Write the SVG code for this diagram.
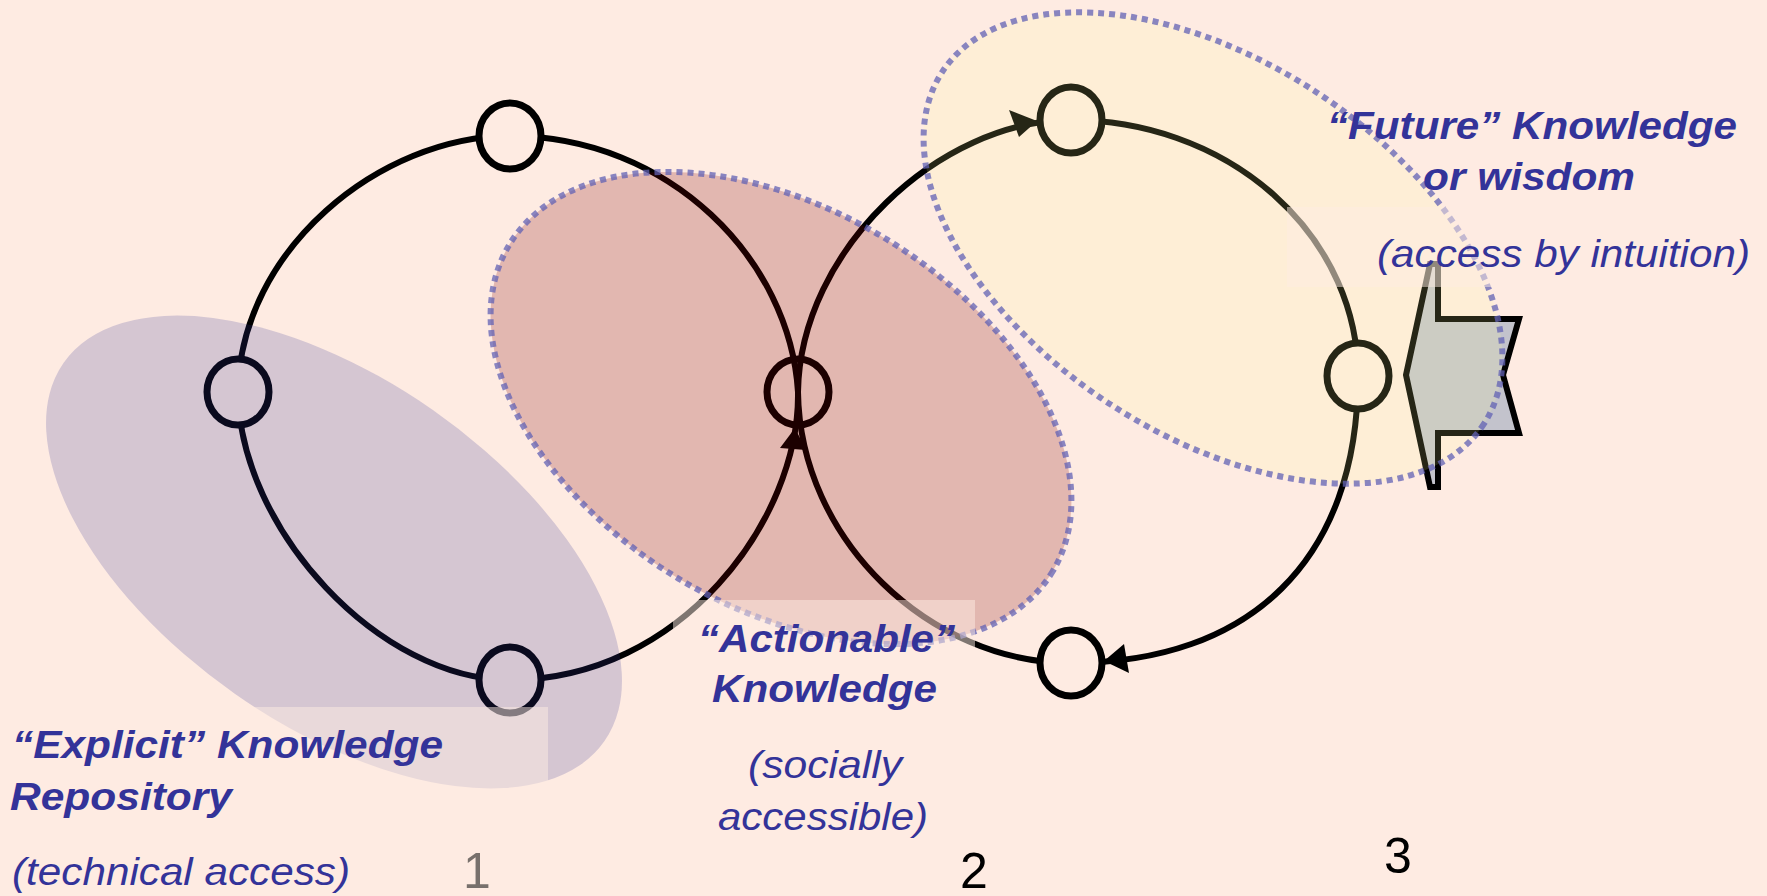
<svg xmlns="http://www.w3.org/2000/svg" width="1767" height="896" viewBox="0 0 1767 896">
<style>
.loop{fill:none;stroke:#000;stroke-width:6;}
.head{fill:#000;stroke:none;}
.node{fill:#FEEBE2;stroke:#000;stroke-width:7;}
.zone{stroke:#6262b4;stroke-opacity:0.75;stroke-width:6;stroke-dasharray:6 5;}
.box{fill:#FEEBE2;fill-opacity:0.5;}
.t{font-family:"Liberation Sans",Arial,sans-serif;fill:#333399;font-style:italic;}
.b{font-weight:bold;font-size:38px;}
.i{font-size:38px;}
.num{font-family:"Liberation Sans",Arial,sans-serif;font-size:50px;}
</style>
<rect x="0" y="0" width="1767" height="896" fill="#FEEBE2"/>
<g id="connectors">
  <path class="loop" d="M510 136 C670 136 790 260 798 392"/>
  <path class="loop" d="M798 392 C800 520 680 680 510 680"/>
  <path class="loop" d="M510 680 C380 680 240 530 238 392"/>
  <path class="loop" d="M238 392 C240 250 380 136 510 136"/>
  <path class="loop" d="M798 392 C800 250 940 120 1071 120"/>
  <path class="loop" d="M1071 120 A287 256 0 0 1 1358 376"/>
  <path class="loop" d="M1358 376 C1358 560 1250 663 1071 663"/>
  <path class="loop" d="M1071 663 C930 663 800 540 798 392"/>
  <polygon class="head" points="795,428 780,448 806,450"/>
  <polygon class="head" points="1037,121 1009,110 1019,137"/>
  <polygon class="head" points="1104,661 1124,644 1129,673"/>
</g>
<g id="node-left-top"><ellipse class="node" cx="510" cy="136" rx="31" ry="33"/></g>
<g id="node-left-left"><ellipse class="node" cx="238" cy="392" rx="31" ry="33"/></g>
<g id="node-left-bottom"><ellipse class="node" cx="510" cy="680" rx="31" ry="33"/></g>
<g id="node-middle"><ellipse class="node" cx="798" cy="392" rx="31" ry="33" style="fill:none"/></g>
<g id="node-right-top"><ellipse class="node" cx="1071" cy="120" rx="31" ry="33"/></g>
<g id="node-right-right"><ellipse class="node" cx="1358" cy="376" rx="31" ry="33"/></g>
<g id="node-right-bottom"><ellipse class="node" cx="1071" cy="663" rx="31" ry="33"/></g>
<g id="input-arrow">
  <polygon points="1406,375 1430,264 1438,264 1438,319 1519,319 1503,375 1519,433 1438,433 1438,487 1430,487" fill="#C3C3CC" stroke="#000" stroke-width="6" stroke-linejoin="miter"/>
</g>
<g id="zone-explicit">
  <ellipse cx="334" cy="552" rx="330" ry="173" transform="rotate(35 334 552)" fill="#333396" fill-opacity="0.2"/>
</g>
<g id="zone-actionable">
  <ellipse class="zone" cx="781" cy="408" rx="317" ry="199" transform="rotate(31 781 408)" fill="#800000" fill-opacity="0.22"/>
</g>
<g id="zone-future">
  <ellipse class="zone" cx="1213" cy="248" rx="323" ry="187" transform="rotate(33 1213 248)" fill="#FFFF93" fill-opacity="0.15"/>
</g>
<g id="textboxes">
  <rect class="box" x="218" y="707" width="330" height="95"/>
  <rect class="box" x="673" y="600" width="302" height="120"/>
  <rect class="box" x="1287" y="207" width="480" height="80"/>
</g>
<g id="label-future">
  <text class="t b" x="1327" y="139" textLength="410" lengthAdjust="spacingAndGlyphs">“Future” Knowledge</text>
  <text class="t b" x="1423" y="190" textLength="212" lengthAdjust="spacingAndGlyphs">or wisdom</text>
  <text class="t i" x="1377" y="267" textLength="373" lengthAdjust="spacingAndGlyphs">(access by intuition)</text>
</g>
<g id="label-explicit">
  <text class="t b" x="12" y="758" textLength="431" lengthAdjust="spacingAndGlyphs">“Explicit” Knowledge</text>
  <text class="t b" x="10" y="810" textLength="222" lengthAdjust="spacingAndGlyphs">Repository</text>
  <text class="t i" x="12" y="885" textLength="338" lengthAdjust="spacingAndGlyphs">(technical access)</text>
</g>
<g id="label-actionable">
  <text class="t b" x="698" y="652" textLength="257" lengthAdjust="spacingAndGlyphs">“Actionable”</text>
  <text class="t b" x="712" y="702" textLength="225" lengthAdjust="spacingAndGlyphs">Knowledge</text>
  <text class="t i" x="748" y="778" textLength="154" lengthAdjust="spacingAndGlyphs">(socially</text>
  <text class="t i" x="718" y="830" textLength="210" lengthAdjust="spacingAndGlyphs">accessible)</text>
</g>
<g id="numbers">
  <text class="num" x="463" y="888" fill="#78706C">1</text>
  <text class="num" x="960" y="888" fill="#000">2</text>
  <text class="num" x="1384" y="873" fill="#000">3</text>
</g>
</svg>
